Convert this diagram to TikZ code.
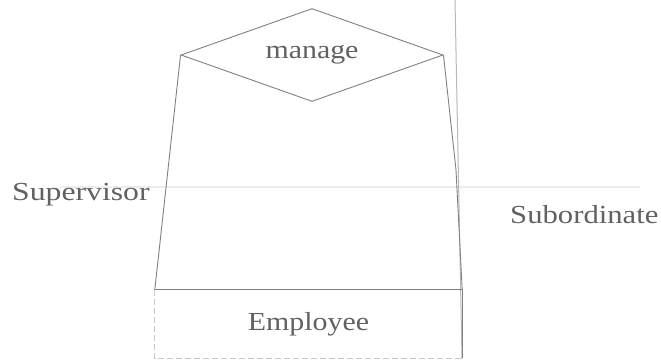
\documentclass[tikz,border=0pt]{standalone}
\usepackage{fontspec}
\setmainfont{Liberation Serif}
\usetikzlibrary{shapes.geometric}
\begin{document}
\begin{tikzpicture}[x=1pt,y=-1pt,
  ink/.style={draw=black!50, line width=0.9pt},
  faint/.style={draw=black!22, line width=0.8pt, dash pattern=on 6pt off 3pt},
  txt/.style={text=black!62, font=\fontsize{26}{30}\selectfont},
  lbl/.style={txt, inner sep=0pt},
  rel/.style={ink, diamond, minimum width=262pt, minimum height=93pt, inner sep=0pt, shape aspect=2.8, txt},
  ent/.style={rectangle, minimum width=307pt, minimum height=68pt, inner sep=0pt, txt}]
\useasboundingbox[fill=white] (0,0) rectangle (661,359);
% faint scan line
\coordinate (fa) at (60,187);
\coordinate (fb) at (640,187);
\draw[black!7, line width=2pt] (fa) -- (fb);
% long vertical rule
\coordinate (va) at (455,0);
\coordinate (vb) at (462,359);
\draw[black!28, line width=1pt] (va) -- (vb);
\node[rel] (mg) at (312,55) {\raisebox{-3pt}{\scalebox{1.15}[1]{manage}}};
\node[ent] (emp) at (308.5,324) {\scalebox{1.15}[1]{Employee}};
\draw[faint] (emp.north west) -- (emp.south west) -- (emp.south east);
\draw[ink] (emp.north west) -- (emp.north east) -- (emp.south east);
\coordinate (bend) at (456,170);
\draw[ink] (mg.west) -- (emp.north west);
\draw[ink] (mg.east) -- (bend) -- (emp.north east);
\node[lbl, anchor=base west] (sup) at (12,200) {\scalebox{1.22}[1]{Supervisor}};
\node[lbl, anchor=base west] (sub) at (510,223) {\scalebox{1.18}[1]{Subordinate}};
\end{tikzpicture}
\end{document}
